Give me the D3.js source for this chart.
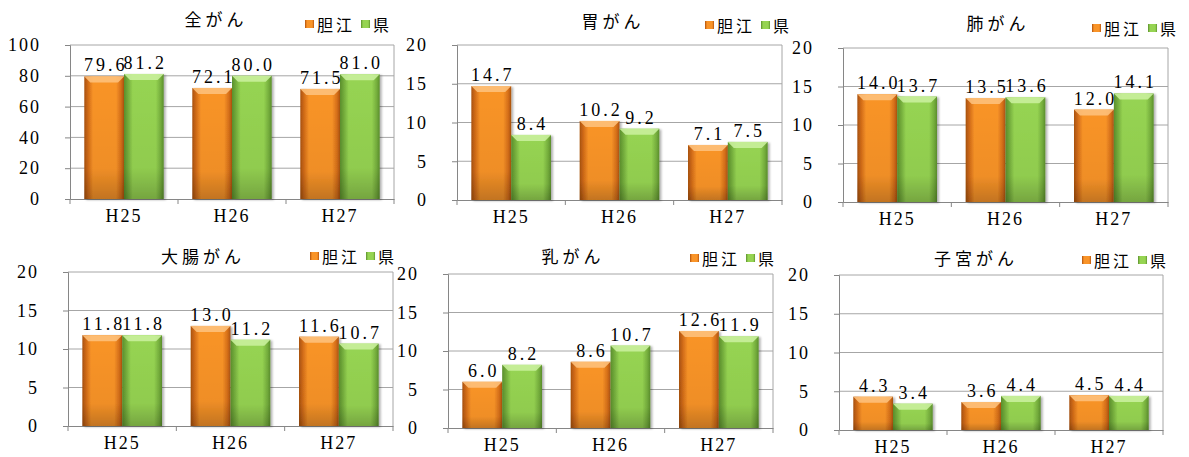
<!DOCTYPE html>
<html>
<head>
<meta charset="utf-8">
<style>
  body { margin: 0; background: #fff; }
</style>
<title></title>
</head>
<body>
<script src="https://cdn.jsdelivr.net/npm/d3@7/dist/d3.min.js"></script>
<script>
// chart data
var years = ["H25", "H26", "H27"];
var series = ["胆江", "県"];
var titles = ["全がん", "胃がん", "肺がん", "大腸がん", "乳がん", "子宮がん"];
var tanko = [[79.6, 72.1, 71.5], [14.7, 10.2, 7.1], [14.0, 13.5, 12.0],
             [11.8, 13.0, 11.6], [6.0, 8.6, 12.6], [4.3, 3.6, 4.5]];
var ken   = [[81.2, 80.0, 81.0], [8.4, 9.2, 7.5], [13.7, 13.6, 14.1],
             [11.8, 11.2, 10.7], [8.2, 10.7, 11.9], [3.4, 4.4, 4.4]];
var yMax  = [100, 20, 20, 20, 20, 20];
var yStep = [20, 5, 5, 5, 5, 5];

// plot area boxes, title and legend anchors
var boxes = [
  {l: 70,  t: 45,  r: 394,  b: 199, tx: 216, ty: 18,  lx: 305,  ly: 24},
  {l: 457, t: 45,  r: 782,  b: 200, tx: 613, ty: 20,  lx: 705,  ly: 25},
  {l: 843, t: 48,  r: 1168, b: 202, tx: 998, ty: 22,  lx: 1092, ly: 28},
  {l: 68,  t: 272, r: 393,  b: 426, tx: 203, ty: 255, lx: 310,  ly: 256},
  {l: 448, t: 274, r: 773,  b: 428, tx: 573, ty: 255, lx: 690,  ly: 258},
  {l: 839, t: 275, r: 1163, b: 430, tx: 976, ty: 257, lx: 1082, ly: 260}
];

var numFont = "'Liberation Serif', 'DejaVu Serif', serif";
var jpFont = "'Noto Sans CJK JP', sans-serif";

var colors = {
  "胆江": {edge: "#d46d18", mid: "#f99428", hi: "#fdc07a", dark: "#a9520f"},
  "県":   {edge: "#74ad3c", mid: "#96d452", hi: "#c9f09c", dark: "#5b8f2c"}
};
var gridColor = "#a6a6a6";

var svg = d3.select("body").append("svg")
  .attr("width", 1189).attr("height", 457);

var defs = svg.append("defs");
series.forEach(function(s, i) {
  var c = colors[s];
  var g = defs.append("linearGradient").attr("id", "gh" + i)
    .attr("x1", "0").attr("x2", "1").attr("y1", "0").attr("y2", "0");
  g.append("stop").attr("offset", "0%").attr("stop-color", c.dark);
  g.append("stop").attr("offset", "10%").attr("stop-color", c.edge);
  g.append("stop").attr("offset", "22%").attr("stop-color", c.mid);
  g.append("stop").attr("offset", "80%").attr("stop-color", c.mid);
  g.append("stop").attr("offset", "93%").attr("stop-color", c.edge);
  g.append("stop").attr("offset", "100%").attr("stop-color", c.dark);
});
var gv = defs.append("linearGradient").attr("id", "gv")
  .attr("x1", "0").attr("x2", "0").attr("y1", "0").attr("y2", "1");
gv.append("stop").attr("offset", "0%").attr("stop-color", "#000").attr("stop-opacity", 0);
gv.append("stop").attr("offset", "75%").attr("stop-color", "#000").attr("stop-opacity", 0.04);
gv.append("stop").attr("offset", "100%").attr("stop-color", "#000").attr("stop-opacity", 0.22);
defs.append("filter").attr("id", "shadow").attr("x", "-20%").attr("y", "-20%")
  .attr("width", "140%").attr("height", "140%")
  .append("feDropShadow").attr("dx", 2).attr("dy", 1).attr("stdDeviation", 1.2)
  .attr("flood-color", "#000").attr("flood-opacity", 0.3);

boxes.forEach(function(bx, p) {
  var g = svg.append("g");
  var x = d3.scaleBand().domain(years).range([bx.l, bx.r]).padding(0);
  var xs = d3.scaleBand().domain(series).range([0, x.bandwidth()])
    .paddingInner(0).paddingOuter(0.36);
  var y = d3.scaleLinear().domain([0, yMax[p]]).range([bx.b, bx.t]);
  var ticks = d3.range(0, yMax[p] + 1, yStep[p]);

  // gridlines
  g.selectAll(".grid").data(ticks.slice(1)).join("line")
    .attr("x1", bx.l).attr("x2", bx.r)
    .attr("y1", function(d) { return y(d); }).attr("y2", function(d) { return y(d); })
    .attr("stroke", gridColor).attr("stroke-width", 1);
  // right border
  g.append("line").attr("x1", bx.r).attr("x2", bx.r).attr("y1", bx.t).attr("y2", bx.b)
    .attr("stroke", gridColor);

  // y axis
  var ya = g.append("g").attr("transform", "translate(" + bx.l + ",0)")
    .call(d3.axisLeft(y).tickValues(ticks).tickSize(5).tickPadding(24));
  ya.attr("font-family", null);
  ya.select(".domain").attr("stroke", "#868686");
  ya.selectAll(".tick line").attr("stroke", "#868686");
  ya.selectAll("text").style("font-family", numFont).style("font-size", "18px")
    .style("letter-spacing", "2px").attr("fill", "#000");

  // x axis
  var xa = g.append("g").attr("transform", "translate(0," + bx.b + ")")
    .call(d3.axisBottom(x).tickSize(0).tickPadding(10).tickSizeOuter(0));
  xa.attr("font-family", null);
  xa.select(".domain").attr("stroke", "#868686");
  xa.selectAll("text").style("font-family", numFont).style("font-size", "18px")
    .style("letter-spacing", "2px").attr("fill", "#000");
  var bounds = years.map(function(d) { return x(d); }).concat([x.range()[1]]);
  g.selectAll(".xt").data(bounds).join("line")
    .attr("x1", function(d) { return d; }).attr("x2", function(d) { return d; })
    .attr("y1", bx.b).attr("y2", bx.b + 5).attr("stroke", "#868686");

  // bars
  var rows = [];
  years.forEach(function(yr, i) {
    rows.push({yr: yr, s: series[0], si: 0, v: tanko[p][i]});
    rows.push({yr: yr, s: series[1], si: 1, v: ken[p][i]});
  });
  var bar = g.selectAll(".bar").data(rows).join("g").attr("filter", "url(#shadow)");
  bar.each(function(d) {
    var bg = d3.select(this);
    var x0 = x(d.yr) + xs(d.s), w = xs.bandwidth();
    var y0 = y(d.v), h = y(0) - y0;
    var bev = Math.min(6, h / 2);
    var c = colors[d.s];
    bg.append("rect").attr("x", x0).attr("y", y0).attr("width", w).attr("height", h)
      .attr("fill", "url(#gh" + d.si + ")");
    bg.append("rect").attr("x", x0).attr("y", y0).attr("width", w).attr("height", h)
      .attr("fill", "url(#gv)");
    bg.append("path")
      .attr("d", "M" + x0 + "," + y0 + "H" + (x0 + w) + "L" + (x0 + w - bev) + "," + (y0 + bev) +
        "H" + (x0 + bev) + "Z")
      .attr("fill", c.hi).attr("opacity", 0.9);
  });

  // value labels
  g.selectAll(".lbl").data(rows).join("text")
    .style("font-family", numFont).style("font-size", "18px").style("letter-spacing", "3px")
    .attr("text-anchor", "middle")
    .attr("x", function(d) { return x(d.yr) + xs(d.s) + xs.bandwidth() / 2 + 1.5; })
    .attr("y", function(d) { return y(d.v) - 5; })
    .text(function(d) { return d.v.toFixed(1); });

  // title
  g.append("text").attr("x", bx.tx).attr("y", bx.ty)
    .attr("text-anchor", "middle").attr("dominant-baseline", "central")
    .style("font-family", jpFont).style("font-size", "17px").style("letter-spacing", "4px")
    .text(titles[p]);

  // legend
  var lg = g.append("g").attr("transform", "translate(" + bx.lx + "," + bx.ly + ")");
  var off = 0;
  series.forEach(function(s, i) {
    lg.append("rect").attr("x", off).attr("y", -4).attr("width", 9).attr("height", 8)
      .attr("fill", "url(#gh" + i + ")");
    var t = lg.append("text").attr("x", off + 12).attr("y", 0)
      .attr("dominant-baseline", "central")
      .style("font-family", jpFont).style("font-size", "16px").style("letter-spacing", "3px")
      .text(s);
    off += 12 + t.node().getComputedTextLength() + 6;
  });
});
</script>
</body>
</html>
